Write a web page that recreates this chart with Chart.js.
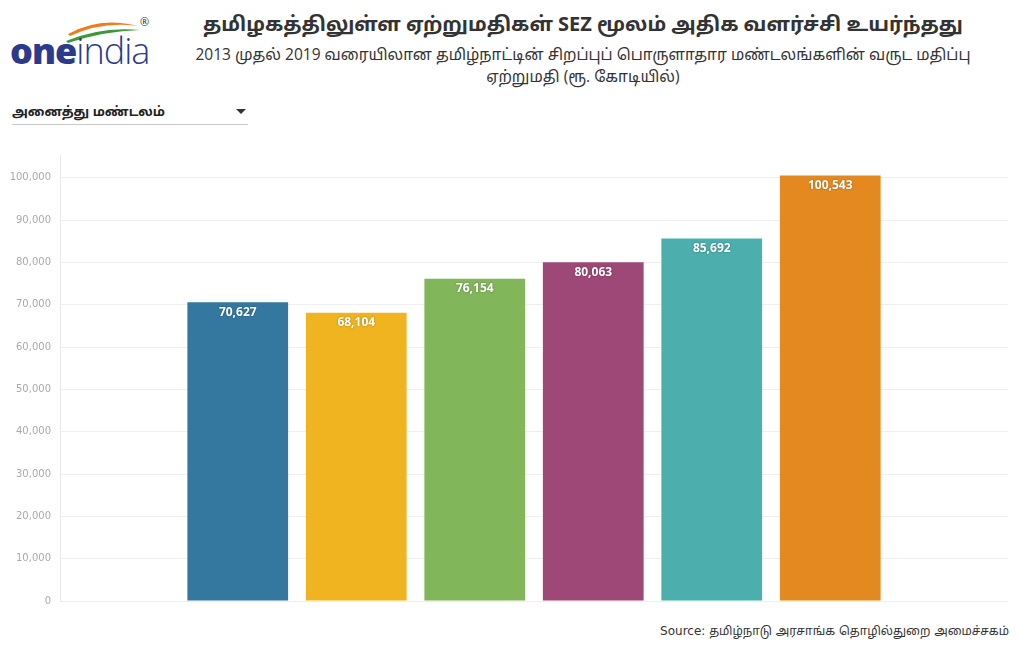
<!DOCTYPE html>
<html>
<head>
<meta charset="utf-8">
<script src="https://cdn.jsdelivr.net/npm/chart.js@4"></script>
<style>
  body { margin: 0; width: 1020px; height: 650px; background: #fff; position: relative; overflow: hidden; font-family: "Open Sans", "Noto Sans Tamil", "Lohit Tamil", sans-serif; }
  .logo { position: absolute; left: 10px; top: 14px; width: 150px; height: 60px; }
  .logo .word { position: absolute; left: 0; top: 12px; font-family: "Open Sans", sans-serif; font-size: 36px; color: #2c3a8c; letter-spacing: -1px; }
  .logo .word b { font-weight: 800; }
  .logo .word span { font-weight: 300; }
  .logo .reg { position: absolute; left: 130px; top: 0; font-size: 11px; color: #333; }
  .title { position: absolute; left: 165px; width: 836px; top: 10px; text-align: center; font-weight: 700; font-size: 20px; color: #333; }
  .subtitle { position: absolute; left: 165px; width: 836px; top: 43px; text-align: center; font-size: 15.5px; line-height: 22px; color: #333; }
  .dropdown { position: absolute; left: 12px; top: 102px; width: 236px; height: 22px; border-bottom: 1px solid #c8c8c8; font-weight: 700; font-size: 13px; color: #222; }
  .dropdown .arrow { position: absolute; right: 2px; top: 7px; width: 0; height: 0; border-left: 5px solid transparent; border-right: 5px solid transparent; border-top: 5px solid #333; }
  .source { position: absolute; right: 11px; top: 624px; font-family: "DejaVu Sans", "Noto Sans Tamil", "Lohit Tamil", sans-serif; font-size: 12px; color: #333; }
  #sezChart { position: absolute; left: 0; top: 140px; }
</style>
</head>
<body>
<div class="logo">
  <svg width="130" height="30" style="position:absolute;left:0;top:0">
    <path d="M58 20 Q 90 2 128 12 Q 92 7 60 22 Z" fill="#f07c22"/>
    <path d="M56 27 Q 92 12 130 16 Q 94 17 58 29 Z" fill="#3a9a3a"/>
  </svg>
  <div class="word"><b>one</b><span>india</span></div>
  <div class="reg">®</div>
</div>
<div class="title">தமிழகத்திலுள்ள ஏற்றுமதிகள் SEZ மூலம் அதிக வளர்ச்சி உயர்ந்தது</div>
<div class="subtitle">2013 முதல் 2019 வரையிலான தமிழ்நாட்டின் சிறப்புப் பொருளாதார மண்டலங்களின் வருட மதிப்பு<br>ஏற்றுமதி (ரூ. கோடியில்)</div>
<div class="dropdown">அனைத்து மண்டலம்<div class="arrow"></div></div>
<canvas id="sezChart" width="1008" height="476"></canvas>
<div class="source">Source: தமிழ்நாடு அரசாங்க தொழில்துறை அமைச்சகம்</div>

<script>
const categories = ['SEZ'];
const years = ['2013-14', '2014-15', '2015-16', '2016-17', '2017-18', '2018-19'];
const exportValues = [70627, 68104, 76154, 80063, 85692, 100543];
const barColors = ['#35789f', '#efb420', '#82b65a', '#9d4877', '#4caead', '#e3891f'];
const yTicks = [0, 10000, 20000, 30000, 40000, 50000, 60000, 70000, 80000, 90000, 100000];

const valueLabels = {
    id: 'valueLabels',
    afterDatasetsDraw(chart) {
        const ctx = chart.ctx;
        ctx.save();
        ctx.font = 'bold 12px "Open Sans"';
        ctx.textAlign = 'center';
        ctx.textBaseline = 'middle';
        ctx.fillStyle = '#fff';
        ctx.shadowColor = 'rgba(0,0,0,0.35)';
        ctx.shadowBlur = 2;
        chart.data.datasets.forEach((ds, i) => {
            chart.getDatasetMeta(i).data.forEach((bar, j) => {
                ctx.fillText(ds.data[j].toLocaleString('en-US'), bar.x, bar.y + 10);
            });
        });
        ctx.restore();
    }
};

new Chart(document.getElementById('sezChart'), {
    type: 'bar',
    data: {
        labels: categories,
        datasets: years.map((yr, i) => ({
            label: yr,
            data: [exportValues[i]],
            backgroundColor: barColors[i],
            categoryPercentage: 0.75,
            barPercentage: 0.85
        }))
    },
    options: {
        responsive: false,
        animation: false,
        layout: { padding: { top: 2, bottom: 1 } },
        plugins: {
            legend: { display: false },
            tooltip: { enabled: false }
        },
        scales: {
            x: { display: false },
            y: {
                min: 0,
                max: 105400,
                afterBuildTicks: (scale) => {
                    scale.ticks = yTicks.map(v => ({ value: v }));
                },
                afterFit: (scale) => { scale.width = 60; },
                border: { color: '#e8e8e8' },
                grid: { color: '#efefef', drawTicks: false },
                ticks: {
                    padding: 9,
                    color: '#aaa',
                    font: { family: 'DejaVu Sans', size: 10 },
                    callback: (v) => v.toLocaleString('en-US')
                }
            }
        }
    },
    plugins: [valueLabels]
});
</script>
</body>
</html>
